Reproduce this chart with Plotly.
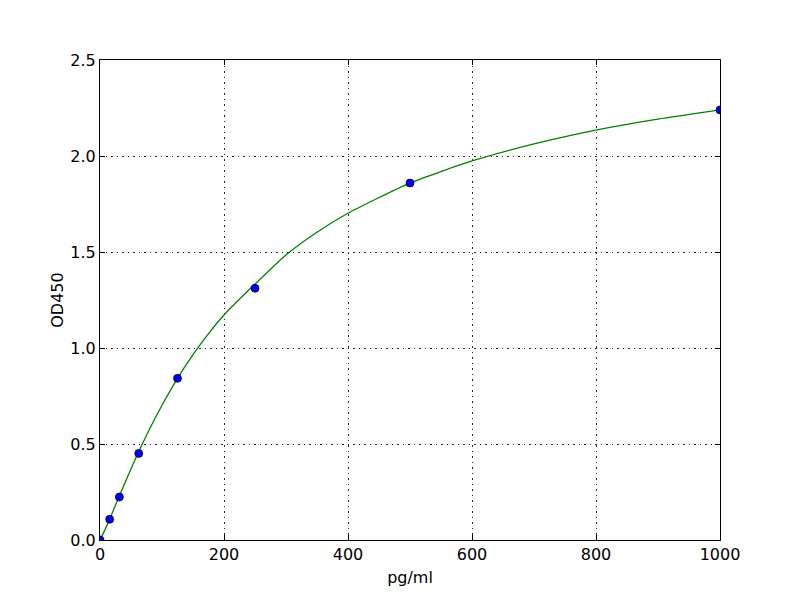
import plotly.graph_objects as go

# standard points (pg/ml, OD450)
conc = [0, 15.6, 31.25, 62.5, 125, 250, 500, 1000]
od = [0.0, 0.108, 0.224, 0.451, 0.842, 1.311, 1.859, 2.24]

# fitted curve
fit_x = [0, 10, 20, 30, 40, 60, 80, 100, 125, 150, 175, 200, 250, 300, 350, 400,
         500, 600, 700, 800, 900, 1000]
fit_y = [0.0, 0.067, 0.143, 0.22, 0.296, 0.443, 0.578, 0.702, 0.842, 0.965, 1.075, 1.172,
         1.333, 1.485, 1.603, 1.702, 1.859, 1.974, 2.063, 2.135, 2.192, 2.24]

fig = go.Figure()

fig.add_trace(go.Scatter(
    x=fit_x, y=fit_y,
    mode='lines',
    line=dict(color='#008000', width=1.3, shape='spline', smoothing=0.6),
    showlegend=False,
))

fig.add_trace(go.Scatter(
    x=conc, y=od,
    mode='markers',
    marker=dict(color='#0000ff', size=8, line=dict(color='#000000', width=0.7)),
    showlegend=False,
))

axis_style = dict(
    showline=True, linecolor='black', linewidth=1.2, mirror='ticks',
    ticks='inside', ticklen=5, tickcolor='black', tickwidth=1,
    showgrid=True, gridcolor='#222222', gridwidth=1, griddash='1.5px,4px',
    zeroline=False,
    tickfont=dict(family='DejaVu Sans', size=16, color='black'),
)

fig.update_xaxes(range=[0, 1000], tickvals=[0, 200, 400, 600, 800, 1000],
                 title=dict(text='pg/ml', font=dict(family='DejaVu Sans', size=16, color='black'), standoff=8),
                 **axis_style)
fig.update_yaxes(range=[0, 2.5], tickvals=[0, 0.5, 1.0, 1.5, 2.0, 2.5], tickformat='.1f',
                 title=dict(text='OD450', font=dict(family='DejaVu Sans', size=16, color='black'), standoff=2),
                 **axis_style)

# the page body adds 8px, so shift the margins to land the axes where the reference has them
fig.update_layout(
    width=800, height=600,
    margin=dict(l=92, r=88, t=52, b=68),
    paper_bgcolor='white', plot_bgcolor='white',
)

fig.write_html("out.html")
